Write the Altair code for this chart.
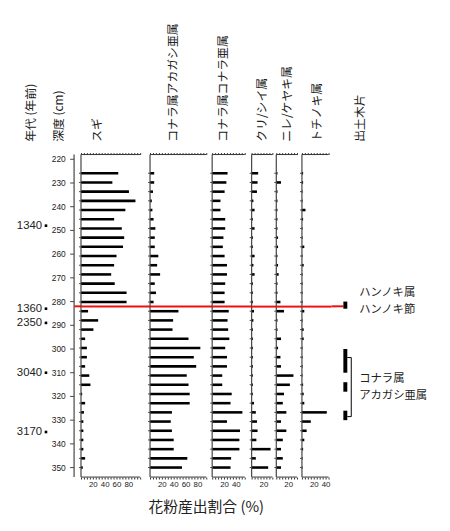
import altair as alt
import pandas as pd

# ---------------- data ----------------
depths = [224, 228, 232, 236, 240, 244, 248, 252, 256, 260, 264, 268, 272, 276, 280,
          284, 288, 292, 296, 300, 304, 308, 312, 316, 320, 324, 328, 332, 336, 340, 344, 348, 352]
sugi     = [63, 53, 81, 92, 75, 56, 69, 73, 71, 60, 56, 51, 57, 77, 77,
            12, 29, 21, 7, 10, 10, 7, 14, 16, 2, 7, 5, 4, 4, 4, 4, 7, 3]
akagashi = [7, 7, 5, 3, 4, 6, 9, 8, 8, 14, 12, 17, 8, 10, 6,
            48, 39, 38, 65, 85, 74, 78, 62, 65, 67, 67, 37, 35, 37, 40, 40, 63, 54]
konara   = [26, 24, 21, 14, 14, 22, 22, 19, 18, 21, 25, 25, 22, 21, 21,
            28, 26, 27, 29, 22, 25, 25, 17, 17, 33, 31, 51, 25, 47, 46, 46, 32, 31]
kuri     = [11, 10, 9, 3, 5, 2, 5, 2, 2, 5, 3, 5, 2, 2, 2,
            4, 3, 2, 2, 2, 2, 2, 2, 2, 2, 4, 7, 9, 10, 8, 32, 7, 28]
nire     = [2, 8, 2, 2, 2, 2, 2, 3, 3, 2, 3, 4, 2, 2, 7,
            13, 2, 2, 8, 3, 7, 8, 29, 23, 13, 11, 17, 8, 17, 11, 8, 11, 8]
tochi    = [2, 2, 1, 1, 6, 2, 1, 1, 4, 1, 3, 1, 1, 1, 1,
            4, 1, 3, 3, 1, 1, 1, 1, 2, 3, 4, 42, 15, 8, 4, 2, 1, 1]

taxa = ["スギ", "コナラ属アカガシ亜属", "コナラ属コナラ亜属", "クリ/シイ属", "ニレ/ケヤキ属", "トチノキ属"]
series = [sugi, akagashi, konara, kuri, nire, tochi]
tick_max = [100, 95, 55, 35, 35, 45]
label_vals = [[20, 40, 60, 80], [20, 40, 60, 80], [20, 40], [20], [20], [20, 40]]

depth_ticks = [220, 230, 240, 250, 260, 270, 280, 290, 300, 310, 320, 330, 340, 350]
age_labels = ["1340", "1360", "2350", "3040", "3170"]
age_depths = [248, 283, 289, 310, 335]

find_top = [280, 300, 314, 326]
find_bot = [283, 310, 318, 330]
bracket_depths = [303.6, 328.5]
notes = ["ハンノキ属", "ハンノキ節", "コナラ属", "アカガシ亜属"]
note_depths = [276.6, 283.5, 312.6, 319.8]
boundary = [282]

x_title = "花粉産出割合 (%)"
age_head = "年代 (年前)"
depth_head = "深度 (cm)"
find_head = "出土木片"

# ---------------- layout / style ----------------
PX = 0.6            # pixels per percent
H = 327
ys = alt.Scale(domain=[218, 354], nice=False, zero=False, reverse=True)
panel_w = [70, 63, 40, 25, 26, 30]
head_dx = [16, 23, 11, 11, 11, 15]
JP = "Noto Sans CJK JP"
NUM = "Liberation Sans"
RED = "#ee1111"
AX = "#333333"
VAX = "#444444"
HEAD_Y = -13

one = pd.DataFrame({"k": [0]})
red_df = pd.DataFrame({"d": boundary})
dep_df = pd.DataFrame({"depth": depths})
dtick_df = pd.DataFrame({"depth": depth_ticks, "lab": [str(v) for v in depth_ticks]})


def Yq(field):
    return alt.Y(field, type="quantitative", scale=ys, axis=None)


def header(text, dx):
    return alt.Chart(one).mark_text(
        text=text, angle=270, align="left", baseline="middle",
        font=JP, fontSize=12, color="#222222"
    ).encode(x=alt.value(dx), y=alt.value(HEAD_Y))


def red_full():
    return alt.Chart(red_df).mark_rule(color=RED, strokeWidth=2).encode(y=Yq("d"))


def vline():
    return alt.Chart(one).mark_rule(color=VAX, strokeWidth=1.2).encode(
        x=alt.value(0), y=alt.value(0), y2=alt.value(H))


def vticks(df, length):
    return alt.Chart(df).mark_rule(color=VAX, strokeWidth=1).encode(
        x=alt.value(-length), x2=alt.value(0), y=Yq("depth"))


def panel(i):
    w = panel_w[i]
    xs = alt.Scale(domain=[0, w / PX], nice=False, zero=True)
    df = pd.DataFrame({"depth": depths, "pct": series[i]})
    tmax = tick_max[i]
    tvals = list(range(0, tmax + 1, 5))
    lab = "[" + ",".join(str(v) for v in label_vals[i]) + "]"
    bars = alt.Chart(df).mark_bar(orient="horizontal", size=2.6, color="black").encode(
        x=alt.X("pct:Q", scale=xs, axis=None),
        y=Yq("depth"),
    )
    ldf = pd.DataFrame({"a": [0], "b": [tmax]})
    top = alt.Chart(ldf).mark_rule(color=AX, strokeWidth=1).encode(
        x=alt.X("a:Q", scale=xs, axis=alt.Axis(
            orient="top", values=tvals, labels=False, tickSize=2, tickColor=AX,
            domain=False, grid=False, title=None)),
        x2="b:Q",
        y=alt.value(0),
    )
    bottom = alt.Chart(ldf).mark_rule(color=AX, strokeWidth=1).encode(
        x=alt.X("a:Q", scale=xs, axis=alt.Axis(
            orient="bottom", values=tvals, tickSize=2, tickColor=AX,
            labelExpr=f"indexof({lab}, datum.value) >= 0 ? datum.label : ''",
            labelOverlap=False, labelFlush=False, labelFontSize=8, labelFont=NUM,
            labelColor="#222222", labelPadding=2, domain=False, grid=False, title=None)),
        x2="b:Q",
        y=alt.value(H),
    )
    layers = [bars, top, bottom, vline(), vticks(dep_df, 2), red_full(),
              header(taxa[i], head_dx[i])]
    if i == 1:
        layers.append(alt.Chart(one).mark_text(
            text=x_title, align="center", baseline="middle", font=JP, fontSize=15,
            color="#222222").encode(x=alt.value(57), y=alt.value(357)))
    return alt.layer(*layers).resolve_axis(x="independent").properties(width=w, height=H)


# ---- left column: ages + depth axis ----
age_df = pd.DataFrame({"depth": age_depths, "age": age_labels})
depth_labels = alt.Chart(dtick_df).mark_text(
    align="right", baseline="middle", font=NUM, fontSize=8.5, color="#222222"
).encode(x=alt.value(-8.5), y=Yq("depth"), text="lab:N")
age_text = alt.Chart(age_df).mark_text(
    align="right", baseline="middle", font=NUM, fontSize=11.5, color="#222222"
).encode(x=alt.value(-32.5), y=Yq("depth"), text="age:N")
age_dot = alt.Chart(age_df).mark_square(size=7, color="black", opacity=1).encode(
    x=alt.value(-28.5), y=Yq("depth"))
colA = alt.layer(
    vline(), vticks(dtick_df, 4), depth_labels, age_text, age_dot, red_full(),
    header(age_head, -44), header(depth_head, -15),
).properties(width=7, height=H)

# ---- right column: wood finds ----
fdf = pd.DataFrame({"top": find_top, "bot": find_bot})
finds = alt.Chart(fdf).mark_rect(color="black").encode(
    x=alt.value(12), x2=alt.value(16), y=Yq("top"), y2="bot:Q")
bdf = pd.DataFrame({"y0": [bracket_depths[0]], "y1": [bracket_depths[1]]})
br_v = alt.Chart(bdf).mark_rule(color="black", strokeWidth=1).encode(
    x=alt.value(20), y=Yq("y0"), y2="y1:Q")
adf = pd.DataFrame({"d": bracket_depths})
br_h = alt.Chart(adf).mark_rule(color="black", strokeWidth=1).encode(
    x=alt.value(16), x2=alt.value(20), y=Yq("d"))
red_short = alt.Chart(red_df).mark_rule(color=RED, strokeWidth=2).encode(
    x=alt.value(0), x2=alt.value(12), y=Yq("d"))
ndf = pd.DataFrame({"d": note_depths, "t": notes})
note_text = alt.Chart(ndf).mark_text(
    align="left", baseline="middle", font=JP, fontSize=11.5, color="#222222"
).encode(x=alt.value(28), y=Yq("d"), text="t:N")
colR = alt.layer(
    red_short, finds, br_v, br_h, note_text, header(find_head, 29)
).properties(width=107, height=H)

chart = alt.hconcat(
    colA, *[panel(i) for i in range(6)], colR, spacing=0, bounds="flush"
).properties(
    padding={"left": 8, "top": 11, "right": 5, "bottom": 5},
    background="white",
).configure_view(stroke=None)

chart.save("out.html", embed_options={"renderer": "svg", "actions": False})
